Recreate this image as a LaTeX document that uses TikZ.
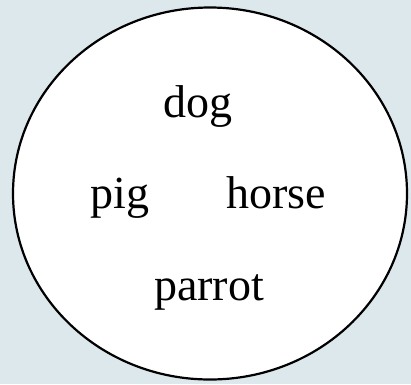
\documentclass[tikz,border=0pt]{standalone}
\usepackage{fontspec}
\setmainfont{Liberation Serif}
\usepackage{xcolor}
\usepackage{tikz}
\usetikzlibrary{positioning,shapes.geometric}

\definecolor{bgblue}{RGB}{221,232,237}

\begin{document}
\begin{tikzpicture}[
    x=1pt, y=-1pt,
    animal/.style={
        font=\fontsize{46}{50}\selectfont,
        inner sep=0pt,
        anchor=base
    },
    set/.style={draw, fill=white, line width=2.2pt}
]

\fill[bgblue] (0,0) rectangle (411,384);
\useasboundingbox (0,0) rectangle (411,384);

\draw[set] (210,193.5) ellipse [x radius=197, y radius=186];

\node[animal] (dog) at (198,117) {dog};
\node[animal] (pig) at (120,208) {pig};
\node[animal] (horse) at (276,208) {horse};
\node[animal] (parrot) at (209,300) {parrot};

\end{tikzpicture}
\end{document}
